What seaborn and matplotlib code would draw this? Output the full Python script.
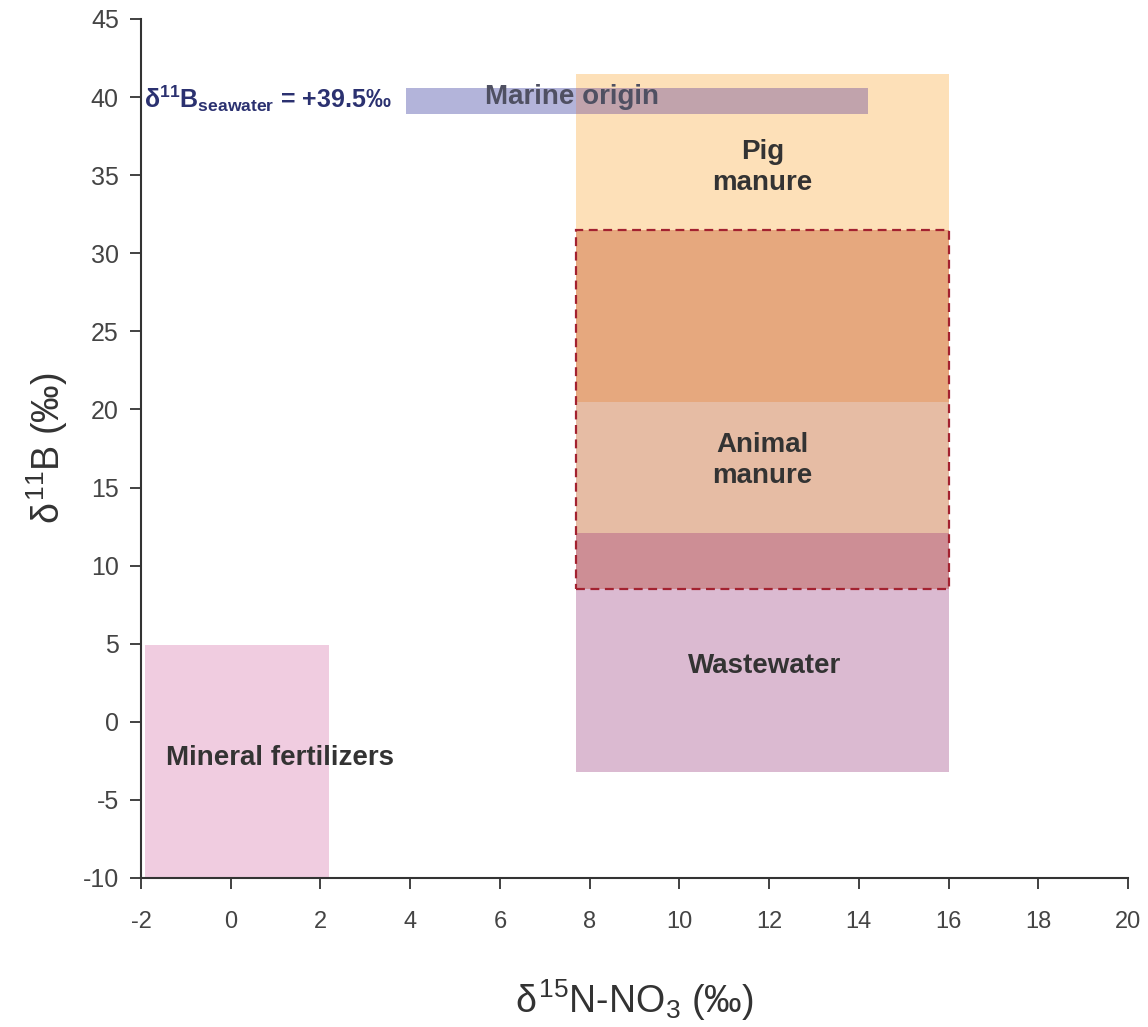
import matplotlib
matplotlib.use("Agg")
import matplotlib.pyplot as plt
from matplotlib.patches import Rectangle
import seaborn as sns

# source boxes (delta15N-NO3 range, delta11B range)
sources = ["Mineral fertilizers", "Wastewater", "Animal manure", "Pig manure", "Marine origin"]
n_min = [-1.9, 7.7, 7.7, 7.7, 3.9]
n_max = [2.2, 16.0, 16.0, 16.0, 14.2]
b_min = [-10.0, -3.2, 8.5, 20.5, 38.9]
b_max = [4.9, 12.1, 31.5, 41.5, 40.6]

# overlapping pairs that get their own shade
overlap_pairs = [("Pig manure", "Animal manure"),
                 ("Animal manure", "Wastewater"),
                 ("Marine origin", "Pig manure")]

seawater_b = 39.5
x_ticks = list(range(-2, 21, 2))
y_ticks = list(range(-10, 46, 5))

colors = {
    "Mineral fertilizers": "#F0CCE0",
    "Wastewater": "#DBBAD1",
    "Animal manure": "#E6BCA4",
    "Pig manure": "#FDE0B8",
    "Marine origin": "#B3B4DA",
}
overlap_colors = ["#E6A87E", "#CD8E95", "#C1A3AC"]

sns.set_style("ticks")
plt.rcParams["font.family"] = ["Liberation Sans", "DejaVu Sans"]
plt.rcParams["mathtext.fontset"] = "custom"
plt.rcParams["mathtext.rm"] = "Liberation Sans"
plt.rcParams["mathtext.it"] = "Liberation Sans"
plt.rcParams["mathtext.bf"] = "Liberation Sans:bold"
plt.rcParams["axes.unicode_minus"] = False

fig = plt.figure(figsize=(11.48, 10.27), dpi=100)
ax = fig.add_axes([0.1228, 0.1451, 0.8598, 0.8364])

box = {name: (n_min[i], n_max[i], b_min[i], b_max[i]) for i, name in enumerate(sources)}

for name in sources:
    x0, x1, y0, y1 = box[name]
    ax.add_patch(Rectangle((x0, y0), x1 - x0, y1 - y0, facecolor=colors[name],
                           edgecolor="none", zorder=1))

for (a, b), c in zip(overlap_pairs, overlap_colors):
    ax0, ax1_, ay0, ay1 = box[a]
    bx0, bx1, by0, by1 = box[b]
    x0, x1 = max(ax0, bx0), min(ax1_, bx1)
    y0, y1 = max(ay0, by0), min(ay1, by1)
    ax.add_patch(Rectangle((x0, y0), x1 - x0, y1 - y0, facecolor=c,
                           edgecolor="none", zorder=2))

# dashed outline around animal manure
x0, x1, y0, y1 = box["Animal manure"]
ax.add_patch(Rectangle((x0, y0), x1 - x0, y1 - y0, facecolor="none",
                       edgecolor="#A32230", linestyle=(0, (4, 2.5)), linewidth=1.6, zorder=3))

lab = dict(fontsize=20, fontweight="bold", color="#333333", ha="center", va="center",
           linespacing=1.25, zorder=4)
ax.text(11.85, 35.5, "Pig\nmanure", **lab)
ax.text(11.85, 16.7, "Animal\nmanure", **lab)
ax.text(11.9, 3.6, "Wastewater", **lab)
ax.text(1.1, -2.3, "Mineral fertilizers", **lab)
ax.text(7.6, 40.0, "Marine origin", fontsize=20, fontweight="bold", color="#4F5062",
        ha="center", va="center", zorder=4)
ax.text(-1.93, seawater_b + 0.4, r"$\mathbf{\delta^{11}B_{seawater}}$" + " = +39.5‰",
        fontsize=18, fontweight="bold", color="#2B3170", ha="left", va="center", zorder=4)

ax.set_xlim(-2, 20)
ax.set_ylim(-10, 45)
ax.set_xticks(x_ticks)
ax.set_yticks(y_ticks)
ax.tick_params(axis="both", direction="out", length=8, width=1.3, colors="#333333",
               labelcolor="#444444")
ax.tick_params(axis="x", labelsize=17, pad=16)
ax.tick_params(axis="y", labelsize=18, pad=8)
sns.despine(ax=ax)
for s in ["left", "bottom"]:
    ax.spines[s].set_linewidth(1.5)
    ax.spines[s].set_color("#333333")

ax.set_xlabel(r"$\delta^{15}$N-NO$_3$ (‰)", fontsize=27, color="#333333")
ax.set_ylabel(r"$\delta^{11}$B (‰)", fontsize=27, color="#333333")
ax.xaxis.set_label_coords(0.5, -0.116)
ax.yaxis.set_label_coords(-0.072, 0.5)

fig.savefig("out.png", dpi=100)
